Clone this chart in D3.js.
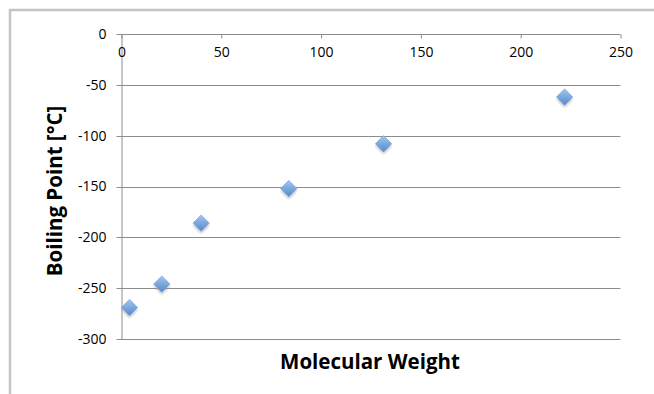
<!DOCTYPE html>
<html>
<head>
<meta charset="utf-8">
<script src="https://cdn.jsdelivr.net/npm/d3@7"></script>
<style>
  body { margin: 0; background: #fff; }
  .axis text { font-family: "Open Sans", Lato, sans-serif; font-size: 14px; fill: #000; }
  .label { font-family: "Open Sans", Lato, sans-serif; font-weight: bold; font-size: 20.5px; fill: #000; }
</style>
</head>
<body>
<div id="chart"></div>
<script>
// noble gases: molecular weight vs boiling point
var weights = [4, 20.2, 39.9, 83.8, 131.3, 222];
var boilingPoints = [-269, -246, -186, -152, -108, -62];
var xTicks = [0, 50, 100, 150, 200, 250];
var yTicks = [0, -50, -100, -150, -200, -250, -300];

var width = 654, height = 394;
var plotLeft = 121.5, plotRight = 620.5, plotTop = 34, plotBottom = 339;

var svg = d3.select("#chart")
  .append("svg")
  .attr("width", width)
  .attr("height", height);

var defs = svg.append("defs");
var grad = defs.append("linearGradient")
  .attr("id", "markerFill")
  .attr("x1", 0).attr("y1", 0).attr("x2", 1).attr("y2", 1);
grad.append("stop").attr("offset", "0%").attr("stop-color", "#a3c6ef");
grad.append("stop").attr("offset", "100%").attr("stop-color", "#5589cc");

defs.append("filter")
  .attr("id", "blur")
  .append("feGaussianBlur")
  .attr("stdDeviation", 1.5);

// chart border
svg.append("rect")
  .attr("x", 10)
  .attr("y", 10)
  .attr("width", 700)
  .attr("height", 500)
  .style("fill", "none")
  .style("stroke", "#c4c4c4")
  .style("stroke-width", 2.5);

var x = d3.scaleLinear()
  .domain([0, 250])
  .range([plotLeft, plotRight]);

var y = d3.scaleLinear()
  .domain([-300, 0])
  .range([plotBottom, plotTop]);

// gridlines
svg.selectAll(".grid")
  .data(yTicks)
  .enter()
  .append("line")
  .attr("class", "grid")
  .attr("x1", plotLeft - 5)
  .attr("x2", plotRight)
  .attr("y1", d => Math.round(y(d)) + 0.5)
  .attr("y2", d => Math.round(y(d)) + 0.5)
  .style("stroke", "#8c8c8c")
  .style("stroke-width", 1);

// y axis (plain hyphen for negatives, like the original)
var yAxis = svg.append("g")
  .attr("class", "axis")
  .attr("transform", "translate(" + plotLeft + ",0)")
  .call(
    d3.axisLeft(y)
      .tickValues(yTicks)
      .tickFormat(d => String(d))
      .tickSize(0)
      .tickPadding(15)
  );
yAxis.select(".domain").style("stroke", "#8c8c8c");

// x axis sits on the zero line at the top
var xAxis = svg.append("g")
  .attr("class", "axis")
  .attr("transform", "translate(0," + (Math.round(y(0)) + 0.5) + ")")
  .call(
    d3.axisBottom(x)
      .tickValues(xTicks)
      .tickSize(4)
      .tickSizeOuter(0)
      .tickPadding(9)
  );
xAxis.select(".domain").remove();
xAxis.selectAll(".tick line").style("stroke", "#8c8c8c");

// axis titles
svg.append("text")
  .attr("class", "label")
  .attr("x", (plotLeft + plotRight) / 2 - 1)
  .attr("y", 369)
  .style("text-anchor", "middle")
  .text("Molecular Weight");

svg.append("text")
  .attr("class", "label")
  .attr("transform", "translate(62,191) rotate(-90)")
  .style("text-anchor", "middle")
  .text("Boiling Point [°C]");

// markers
var diamond = d3.symbol().type(d3.symbolSquare).size(135);
var points = weights.map((w, i) => ({ w: w, bp: boilingPoints[i] }));

svg.selectAll(".shadow")
  .data(points)
  .enter()
  .append("path")
  .attr("class", "shadow")
  .attr("d", diamond)
  .attr("transform", d => "translate(" + x(d.w) + "," + (y(d.bp) + 2.5) + ") rotate(45)")
  .style("fill", "#9a9a9a")
  .style("opacity", 0.55)
  .attr("filter", "url(#blur)");

svg.selectAll(".point")
  .data(points)
  .enter()
  .append("path")
  .attr("class", "point")
  .attr("d", diamond)
  .attr("transform", d => "translate(" + x(d.w) + "," + y(d.bp) + ") rotate(45)")
  .style("fill", "url(#markerFill)")
  .style("stroke", "#6a9ad6")
  .style("stroke-width", 0.5);
</script>
</body>
</html>
